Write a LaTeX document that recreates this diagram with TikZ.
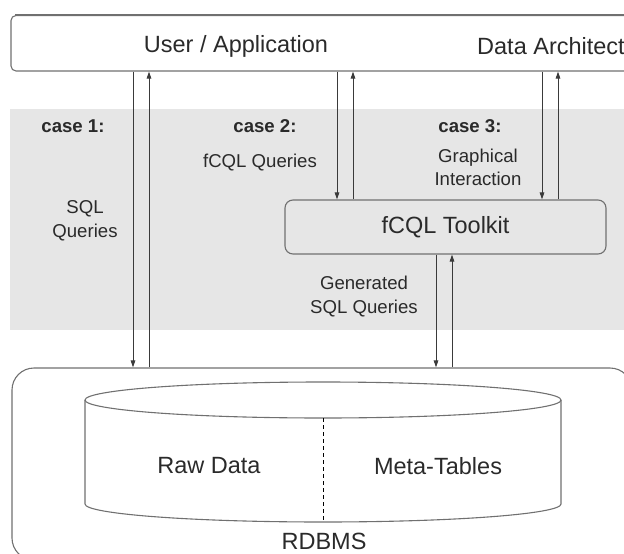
\documentclass[tikz,border=0pt]{standalone}
\usepackage{fontspec}
\setmainfont{Liberation Sans}
\usetikzlibrary{arrows.meta}
\definecolor{band}{HTML}{E6E6E6}
\definecolor{edge}{HTML}{707070}
\definecolor{ink}{HTML}{2A2A2A}
\definecolor{wire}{HTML}{3A3A3A}
\tikzset{
  frame/.style={draw=edge, line width=1.1pt, rounded corners=#1},
  big/.style={font=\fontsize{23.5pt}{28pt}\selectfont, text=ink, inner sep=0pt},
  small/.style={font=\fontsize{18.6pt}{23.5pt}\selectfont, text=ink, align=center, inner sep=0pt},
  casehead/.style={font=\fontsize{18.6pt}{23.5pt}\selectfont\bfseries, text=ink, inner sep=0pt},
  flow/.style={draw=wire, line width=0.9pt, -{Triangle[length=7pt,width=4.5pt]}},
}
\begin{document}
\begin{tikzpicture}[x=1pt,y=-1pt]
\useasboundingbox (0,0) rectangle (624,554);
\clip (0,0) rectangle (624,554);

% shaded band holding the three cases
\fill[band] (10,109) rectangle (640,330);

% top bar, toolkit and database frame
\node[frame=5pt, minimum width=629pt, minimum height=55.5pt] (user) at (325.5,43.25) {};
\draw[edge, line width=1.6pt] ([xshift=5pt]user.north west) -- (user.north east);
\node[frame=8pt, minimum width=321pt, minimum height=54pt, big] (tk) at (445.5,227) {fCQL Toolkit};
\node[frame=22pt, minimum width=620pt, minimum height=192pt] (db) at (322,464) {};

\node[big] (ua) at (236,46) {User / Application};
\node[big, anchor=west] (da) at (477,46) {Data Architect};

% database cylinder
\draw[edge, line width=1.1pt] (323,400) ellipse [x radius=238pt, y radius=18pt];
\draw[edge, line width=1.1pt] (85,400) -- (85,504)
  arc[start angle=180, end angle=360, x radius=238pt, y radius=18pt] -- (561,400);
\draw[black, line width=1pt, dash pattern=on 4pt off 3pt] (323,418) -- (323,522);

\node[big] (raw) at (209,466) {Raw Data};
\node[big] (meta) at (438,466) {Meta-Tables};
\node[big] (rdbms) at (324,541) {RDBMS};

% case labels
\node[casehead] (c1) at (73,126) {case 1:};
\node[casehead] (c2) at (265,126) {case 2:};
\node[casehead] (c3) at (470,126) {case 3:};
\node[small] (fq) at (260,163) {fCQL Queries};
\node[small] (sq) at (85,221) {SQL\\Queries};
\node[small] (gi) at (478,167.5) {Graphical\\Interaction};
\node[small] (gq) at (364,296.5) {Generated\\SQL Queries};

% query / result arrows
\draw[flow] (133,0 |- user.south) -- (133,0 |- db.north);
\draw[flow] (149,0 |- db.north) -- (149,0 |- user.south);
\draw[flow] (337,0 |- user.south) -- (337,0 |- tk.north);
\draw[flow] (353,0 |- tk.north) -- (353,0 |- user.south);
\draw[flow] (542,0 |- user.south) -- (542,0 |- tk.north);
\draw[flow] (558,0 |- tk.north) -- (558,0 |- user.south);
\draw[flow] (436,0 |- tk.south) -- (436,0 |- db.north);
\draw[flow] (452,0 |- db.north) -- (452,0 |- tk.south);
\end{tikzpicture}
\end{document}
